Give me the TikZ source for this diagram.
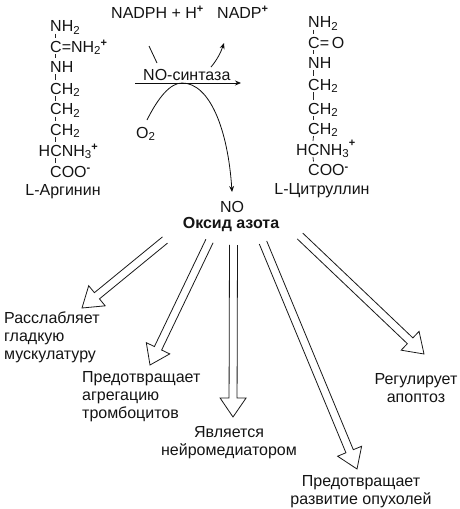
\documentclass[tikz,border=0pt]{standalone}
\usepackage{fontspec}
\setmainfont{Liberation Sans}
\usetikzlibrary{calc,arrows.meta}
\newcommand{\sbs}[1]{\raisebox{-0.3ex}{\fontsize{11.5}{11.5}\selectfont #1}}
\newcommand{\sps}[1]{\raisebox{0.62ex}{\fontsize{11}{11}\selectfont\bfseries #1}}
\newcommand{\hollowarrow}[3]{%
  \coordinate (hb) at ($(#1)!#3!(#2)$);
  \draw[hollow] ($(#1)!4pt!90:(#2)$) -- ($(hb)!4pt!90:(#2)$) -- ($(hb)!13pt!90:(#2)$) -- (#2)
     -- ($(hb)!13pt!-90:(#2)$) -- ($(hb)!4pt!-90:(#2)$) -- ($(#1)!4pt!-90:(#2)$);}
\tikzset{
  txt/.style={inner sep=0pt,font=\fontsize{16}{18}\selectfont,text=black!92},
  chem/.style={txt,anchor=base west},
  lbl/.style={txt,align=left},
  ctr/.style={txt,align=center},
  bond/.style={line width=0.8pt,black!85},
  hollow/.style={line width=0.8pt,black!90,line join=miter},
  rline/.style={line width=0.8pt,black!95},
  rarrow/.style={rline,-{Stealth[length=6pt,width=5pt]}}
}
\begin{document}
\begin{tikzpicture}[x=1pt,y=-1pt]
\useasboundingbox (0,0) rectangle (460,509);
% L-arginine
\node[chem] (a1) at (50,31.5) {NH\sbs{2}};
\node[chem] (a2) at (50,52) {C=NH\sbs{2}\sps{+}};
\node[chem] (a3) at (50,72) {NH};
\node[chem] (a4) at (50,94) {CH\sbs{2}};
\node[chem] (a5) at (50,114.5) {CH\sbs{2}};
\node[chem] (a6) at (50,135) {CH\sbs{2}};
\node[chem] (a7) at (38.5,156) {HCNH\sbs{3}\sps{+}};
\node[chem] (a8) at (50,177) {COO\sps{-}};
\node[txt,anchor=base] (an) at (63,195) {L-Аргинин};
\foreach \u/\v in {a1/a2,a2/a3,a3/a4,a4/a5,a5/a6}
  \draw[bond] ([xshift=5.5pt,yshift=-2pt]\u.base west) -- ([xshift=5.5pt,yshift=14pt]\v.base west);
\draw[bond] ([xshift=5.5pt,yshift=-2pt]a6.base west) -- ([xshift=17pt,yshift=14pt]a7.base west);
\draw[bond] ([xshift=17pt,yshift=-2pt]a7.base west) -- ([xshift=5.5pt,yshift=14pt]a8.base west);
% L-citrulline
\node[chem] (c1) at (308,27.5) {NH\sbs{2}};
\node[chem] (c2) at (308,48) {C=\,O};
\node[chem] (c3) at (308,68) {NH};
\node[chem] (c4) at (308,90) {CH\sbs{2}};
\node[chem] (c5) at (308,114) {CH\sbs{2}};
\node[chem] (c6) at (308,134) {CH\sbs{2}};
\node[chem] (c7) at (296,155) {HCNH\sbs{3}\raisebox{0.4ex}{\sps{+}}};
\node[chem] (c8) at (308,175.5) {COO\sps{-}};
\node[txt,anchor=base] (cn) at (322,194) {L-Цитруллин};
\foreach \u/\v in {c1/c2,c2/c3,c3/c4,c4/c5,c5/c6}
  \draw[bond] ([xshift=5.5pt,yshift=-2pt]\u.base west) -- ([xshift=5.5pt,yshift=14pt]\v.base west);
\draw[bond] ([xshift=5.5pt,yshift=-2pt]c6.base west) -- ([xshift=17pt,yshift=14pt]c7.base west);
\draw[bond] ([xshift=17pt,yshift=-2pt]c7.base west) -- ([xshift=5.5pt,yshift=14pt]c8.base west);
% reaction
\node[txt,anchor=base west] (nadph) at (111,18) {NADPH + H\sps{+}};
\node[txt,anchor=base west] (nadp) at (217,18) {NADP\sps{+}};
\node[txt,anchor=base west] (syn) at (143,80) {NO-синтаза};
\node[txt,anchor=base west] (o2) at (136,138) {O\sbs{2}};
\node[txt,anchor=base] (no) at (232,212) {NO};
\node[txt,anchor=base,font=\fontsize{16}{18}\selectfont\bfseries] (ox) at (231,228) {Оксид азота};
\coordinate (mstart) at (135,83);
\coordinate (mend) at (241,83);
\draw[rarrow] (mstart) -- (mend);
\coordinate (ns) at (149,46);
\coordinate (ne) at (157,63);
\draw[rline] (ns) -- (ne);
\coordinate (ps) at (211,67);
\coordinate (pe) at (224,43);
\draw[rarrow] (ps) .. controls (217,60) and (221,52) .. (pe);
\coordinate (os) at (147,120);
\coordinate (ot) at (232,192);
\draw[rarrow] (os) .. controls (158,98) and (170,83) .. (182,83)
  .. controls (210,83) and (228,130) .. (ot);
% hollow arrows
\coordinate (h1a) at (165,240); \coordinate (h1b) at (82,308);
\coordinate (h2a) at (209.5,241); \coordinate (h2b) at (150,365);
\coordinate (h3a) at (233.5,245); \coordinate (h3b) at (233,417);
\coordinate (h4a) at (263,242.5); \coordinate (h4b) at (357,469);
\coordinate (h5a) at (300,236); \coordinate (h5b) at (424,354);
\hollowarrow{h1a}{h1b}{88pt}
\hollowarrow{h2a}{h2b}{119pt}
\hollowarrow{h3a}{h3b}{153pt}
\hollowarrow{h4a}{h4b}{226pt}
\hollowarrow{h5a}{h5b}{152pt}
% labels
\node[lbl,anchor=base west,text width=120pt] (t1) at (4,323.5) {Расслабляет\\гладкую\\мускулатуру};
\node[lbl,anchor=base west,text width=125pt] (t2) at (82,382.5) {Предотвращает\\агрегацию\\тромбоцитов};
\node[ctr,anchor=base] (t3) at (229,455) {Является\\нейромедиатором};
\node[ctr,anchor=base] (t4) at (361,504) {Предотвращает\\развитие опухолей};
\node[ctr,anchor=base] (t5) at (416,402) {Регулирует\\апоптоз};
\end{tikzpicture}
\end{document}
